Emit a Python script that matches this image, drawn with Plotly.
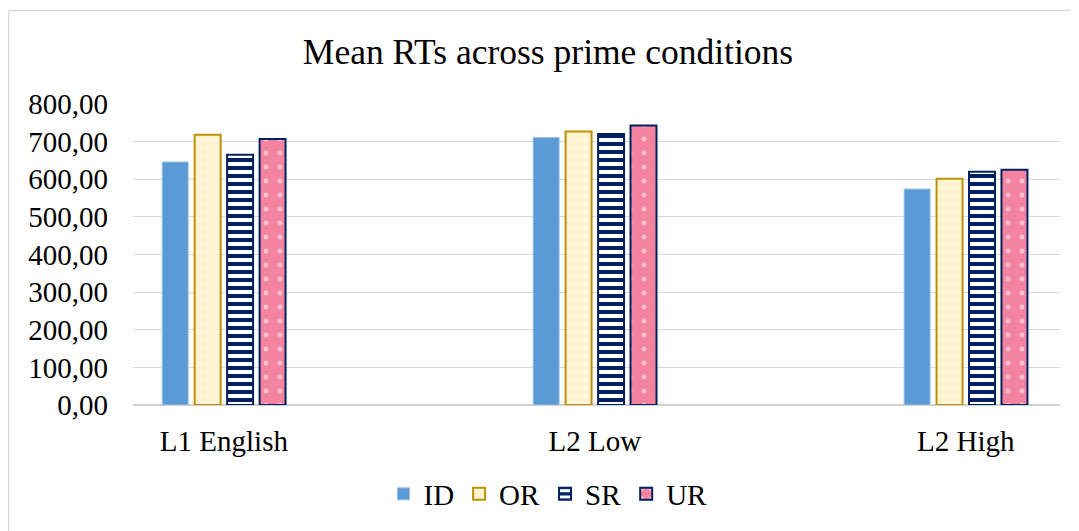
import plotly.graph_objects as go

categories = ["L1 English", "L2 Low", "L2 High"]
series_names = ["ID", "OR", "SR", "UR"]
id_vals = [646, 711, 574]
or_vals = [718, 727, 601]
sr_vals = [665, 720, 620]
ur_vals = [707, 743, 625]
y_ticks = [0, 100, 200, 300, 400, 500, 600, 700, 800]

FONT = "Liberation Serif, Times New Roman, serif"
OFF = 8  # page body margin
W, H = 1079 - OFF, 531 - OFF
L, R, T, B = 133 - OFF, 19, 104 - OFF, 126
PW, PH = W - L - R, H - T - B  # 927 x 301

fig = go.Figure()
fig.add_trace(go.Bar(name="ID", x=categories, y=id_vals,
                     marker=dict(color="#5B9BD5", line=dict(color="#9DC3E6", width=1))))
fig.add_trace(go.Bar(name="OR", x=categories, y=or_vals,
                     marker=dict(color="#FFF2CC", line=dict(color="#BF9000", width=2),
                                 pattern=dict(shape=".", bgcolor="#FFF2CC", fgcolor="#FFFFFF",
                                              size=8, solidity=0.3))))
fig.add_trace(go.Bar(name="SR", x=categories, y=sr_vals,
                     marker=dict(color="#002060", line=dict(color="#002060", width=2),
                                 pattern=dict(shape="-", bgcolor="#002060", fgcolor="#FFFFFF",
                                              fgopacity=1, size=8, solidity=0.5))))
fig.add_trace(go.Bar(name="UR", x=categories, y=ur_vals,
                     marker=dict(color="#F4839F", line=dict(color="#002060", width=2),
                                 pattern=dict(shape=".", bgcolor="#F4839F", fgcolor="#FFFFFF",
                                              size=14, solidity=0.1))))

fig.update_layout(
    width=W, height=H,
    margin=dict(l=L, r=R, t=T, b=B),
    paper_bgcolor="white", plot_bgcolor="white",
    separators=", ",
    font=dict(family=FONT, color="#000000", size=29),
    title=dict(text="Mean RTs across prime conditions", x=(548 - OFF) / W, xanchor="center",
               y=1 - (52 - OFF) / H, yanchor="middle",
               font=dict(family=FONT, size=35.5, color="#000000")),
    barmode="group", bargap=0.65, bargroupgap=0.2,
    showlegend=True,
    legend=dict(orientation="h", x=(548 - 133) / PW, xanchor="center", y=(405 - 494) / PH,
                yanchor="middle", font=dict(family=FONT, size=29, color="#000000"),
                itemwidth=30, tracegroupgap=0),
    xaxis=dict(type="category", range=[-0.245, 2.254], showgrid=False, showline=False,
               ticks="", ticklabelstandoff=16, tickfont=dict(family=FONT, size=29)),
    yaxis=dict(range=[0, 800], tickvals=y_ticks, tickformat=".2f", showgrid=True,
               gridcolor="#D9D9D9", gridwidth=1, zeroline=True, zerolinecolor="#D0D0D0",
               zerolinewidth=2, showline=False, ticks="", ticklabelstandoff=24,
               tickfont=dict(family=FONT, size=29)),
)

# outer chart border (left & top visible)
x_left = (8.5 - 133) / PW
x_right = (1079 - 133) / PW + 0.01
y_top = (405 - 10.5) / PH
y_bot = (405 - 531) / PH - 0.01
fig.add_shape(type="line", xref="paper", yref="paper", x0=x_left, x1=x_left, y0=y_bot, y1=y_top,
              line=dict(color="#D9D9D9", width=1.5))
fig.add_shape(type="line", xref="paper", yref="paper", x0=x_left, x1=x_right, y0=y_top, y1=y_top,
              line=dict(color="#D9D9D9", width=1.5))

fig.write_html("out.html")
